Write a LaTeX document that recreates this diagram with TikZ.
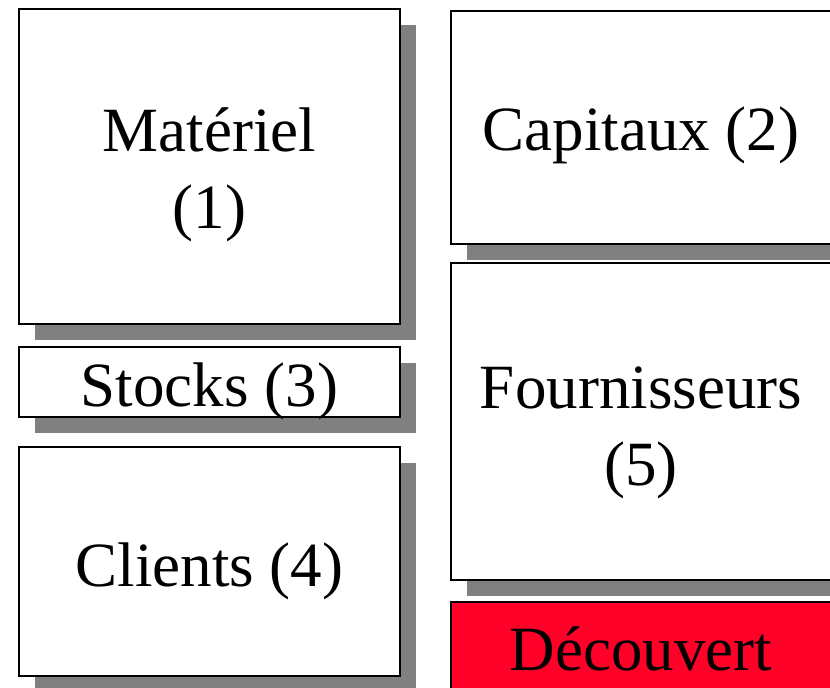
\documentclass[tikz,border=0pt]{standalone}
\usepackage{fontspec}
\setmainfont{Liberation Serif}
\usetikzlibrary{shadows}
\definecolor{shadowgray}{HTML}{808080}
\definecolor{decred}{HTML}{FF0028}
\begin{document}
\begin{tikzpicture}[x=1pt,y=-1pt,
  box/.style={draw=black, line width=2pt, fill=white, inner sep=0pt,
    minimum width=381pt,
    drop shadow={shadow xshift=16pt, shadow yshift=-16pt, fill=shadowgray, opacity=1}},
  txt/.style={inner sep=0pt, align=center, font=\fontsize{63}{77}\selectfont}]
\useasboundingbox (0,0) rectangle (830,688);
\clip (0,0) rectangle (830,688);
\node[box, minimum height=315pt] (mat) at (209.5,166.5) {};
\node[box, minimum height=70pt] (sto) at (209.5,382) {};
\node[box, minimum height=229pt] (cli) at (209.5,561.5) {};
\node[box, minimum height=233pt] (cap) at (641,127.5) {};
\node[box, minimum height=317pt] (fou) at (641,421.5) {};
\node[box, fill=decred, minimum height=100pt] (dec) at (641,652) {};
\node[txt] (matt) at ([yshift=-8pt]mat.center) {Matériel\\(1)};
\node[txt] (stot) at ([yshift=-9pt]sto.center) {Stocks (3)};
\node[txt] (clit) at ([yshift=-10pt]cli.center) {Clients (4)};
\node[txt] (capt) at ([yshift=-8pt]cap.center) {Capitaux (2)};
\node[txt] (fout) at ([yshift=-11pt]fou.center) {Fournisseurs\\(5)};
\node[txt] (dect) at ([yshift=3pt]dec.center) {Découvert};
\end{tikzpicture}
\end{document}
